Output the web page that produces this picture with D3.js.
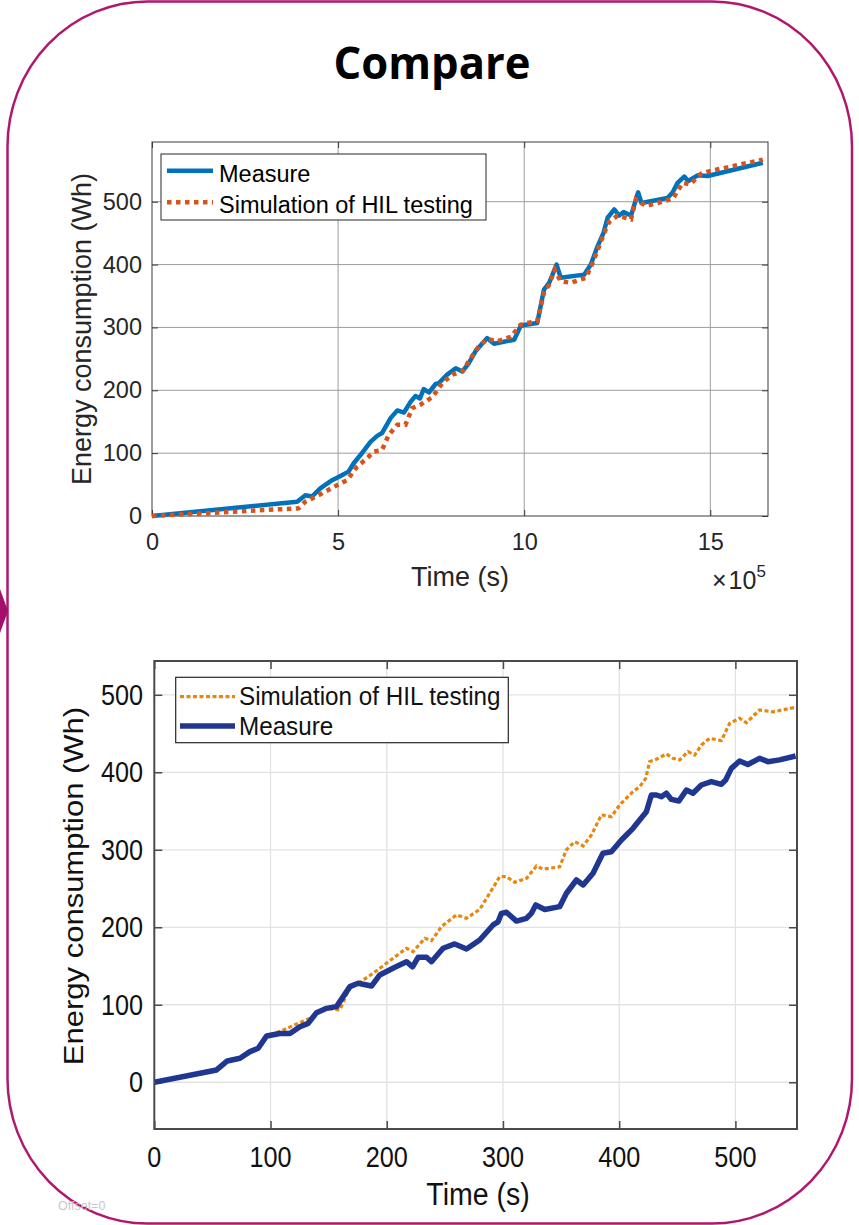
<!DOCTYPE html>
<html><head><meta charset="utf-8">
<script src="https://cdn.jsdelivr.net/npm/d3@7"></script>
<style>html,body{margin:0;padding:0;background:#fff;}svg{display:block;}</style>
</head><body>
<svg id="c" width="859" height="1225"></svg>
<script>
// ---------- DATA ----------
// Top chart (time in units of 1e5 s, energy in Wh)
const topXTicks = [0, 5, 10, 15];
const topYTicks = [0, 100, 200, 300, 400, 500];
const topMeasureT = [0, 3.9, 4.12, 4.3, 4.52, 4.84, 5.1, 5.28, 5.42, 5.6, 5.87, 6.05, 6.18, 6.41, 6.59, 6.77, 6.95, 7.08, 7.2, 7.3, 7.44, 7.62, 7.71, 7.93, 8.16, 8.34, 8.51, 8.69, 9.0, 9.19, 9.73, 9.9, 10.0, 10.35, 10.53, 10.67, 10.87, 10.98, 11.61, 11.79, 11.97, 12.13, 12.24, 12.42, 12.55, 12.67, 12.87, 13.06, 13.15, 13.85, 13.99, 14.12, 14.3, 14.41, 14.66, 14.93, 16.41];
const topMeasureE = [0, 22.8, 33, 31, 44, 57, 65, 70.6, 84, 97, 118, 127.5, 132, 155.7, 168, 164.6, 182, 191, 187, 202, 196.5, 210, 211.5, 225, 235, 230, 243, 262, 283, 274, 280.5, 301.7, 304, 307, 360, 371, 400, 379, 384, 400, 429, 450.5, 474.5, 487.7, 478, 483.4, 478, 515, 498, 506, 515, 530, 540, 533, 542, 541, 562];
const topSimT = [0, 3.94, 4.12, 4.57, 4.97, 5.24, 5.51, 5.78, 5.96, 6.18, 6.36, 6.59, 6.81, 6.99, 7.21, 7.53, 7.8, 8.07, 8.34, 8.56, 8.78, 9.01, 9.28, 9.64, 9.9, 10.0, 10.35, 10.53, 10.67, 10.82, 10.98, 11.25, 11.66, 11.84, 12.01, 12.19, 12.28, 12.51, 12.87, 13.0, 13.27, 13.99, 14.26, 14.46, 14.75, 15.02, 16.41];
const topSimE = [0, 12.3, 22.8, 36, 49, 57, 78.6, 92, 102.5, 105, 129, 145, 145, 171.6, 177, 189, 211.5, 225, 230, 251, 270, 281.6, 278, 285, 304, 306, 310, 355, 368, 392, 373.5, 371, 379, 403, 429, 456, 467.5, 478, 472, 504, 493, 504.7, 530, 527.6, 544.6, 549, 567];

// Bottom chart (time in s, energy in Wh)
const botXTicks = [0, 100, 200, 300, 400, 500];
const botYTicks = [0, 100, 200, 300, 400, 500];
const botMeasureT = [0, 53.6, 62.8, 73.7, 82.3, 89.4, 96.6, 108, 116.7, 125.3, 132.4, 139.6, 148.2, 156.8, 168.3, 175.4, 186.9, 194, 207, 217, 222.2, 227, 234.2, 238.5, 248.5, 258.5, 268.6, 280, 291.5, 295.8, 298.7, 303, 311.6, 320.2, 324.5, 328.2, 336, 348.8, 354.6, 363.2, 369, 377.5, 386, 393.3, 401.9, 406.2, 411.9, 417.6, 423.4, 427.7, 432, 436.3, 440.6, 444.9, 451.4, 457.8, 463.5, 470.7, 479.3, 487.9, 491.6, 496.5, 503.6, 510.7, 520.8, 528, 538, 551.8];
const botMeasureE = [0, 15.9, 27.5, 31, 39.5, 43.9, 59.7, 63, 63, 71.7, 76, 89.8, 95.4, 97.6, 123.4, 127.7, 124.2, 138.5, 148.4, 155.6, 149, 161.3, 161.3, 155.6, 172.9, 178.5, 172, 183.6, 203, 207, 218, 219.4, 208, 211.6, 218, 228.8, 223, 226.6, 243.9, 261, 254.6, 269.7, 295.5, 297.5, 312.6, 319, 327.7, 338.5, 349, 370.7, 370.7, 368.5, 373, 365, 363, 377, 373, 383.6, 388, 384.5, 390, 405, 414.6, 410, 418, 413.7, 416, 421];
const botSimT = [0, 53.6, 62.8, 73.7, 82.3, 89.4, 96.6, 111, 123.8, 133.9, 139.6, 148.2, 159.7, 168.3, 175.4, 188.3, 205.5, 217, 222.7, 232.8, 238.5, 247.1, 260, 268.6, 280, 288.6, 297.2, 303, 310.1, 320.2, 328.8, 334.5, 348.8, 354.6, 361.7, 369, 376.1, 384.7, 393.3, 400.4, 406.2, 411.9, 417.6, 422.8, 426.2, 432, 440.6, 446.3, 452, 459.2, 465, 470.7, 477.8, 487.9, 495, 503.6, 509.4, 520.8, 532.2, 551.8];
const botSimE = [0, 15.9, 27.5, 31, 39.5, 43.9, 59.7, 67.5, 76, 82.6, 89.8, 95.4, 93.3, 123.4, 127.7, 140.6, 160, 172.9, 168.5, 185.8, 182.7, 200.8, 215.9, 211.6, 223, 244, 265.3, 265.3, 258, 263, 279, 275, 278, 300, 310.5, 305, 319, 345, 342.7, 357.8, 366.5, 375, 381.4, 392, 413.7, 416.8, 423.6, 418, 416, 426.6, 422.3, 435, 443.9, 440.8, 463, 469.7, 464, 480.4, 478, 483.8];

const titleText = "Compare";
const legendMeasure = "Measure";
const legendSim = "Simulation of HIL testing";
const xLabel = "Time (s)";
const yLabel = "Energy consumption (Wh)";

// ---------- DRAW ----------
const svg = d3.select("#c");
const FONT = "'Liberation Sans', Arial, Helvetica, sans-serif";
const zip = (a, b) => a.map((v, i) => [v, b[i]]);

// outer rounded frame
svg.append("rect").attr("x", 7.5).attr("y", 1.5).attr("width", 844.5).attr("height", 1222)
  .attr("rx", 140).attr("ry", 145).attr("fill", "none").attr("stroke", "#b0186f").attr("stroke-width", 2.5);
// arrow head on left
svg.append("polygon").attr("points", "0,589 8,611 0,633").attr("fill", "#a3106b");

// title
svg.append("text").attr("x", 432).attr("y", 79).attr("text-anchor", "middle")
  .attr("font-family", "'Open Sans', 'Noto Sans', sans-serif").attr("font-weight", 700)
  .attr("font-size", 44).attr("textLength", 197).attr("lengthAdjust", "spacingAndGlyphs")
  .attr("fill", "#000").text(titleText);

// ===== TOP CHART =====
(function () {
  const L = 152, R = 768, T = 142, B = 516;
  const x = d3.scaleLinear().domain([0, 16.55]).range([L, R]);
  const y = d3.scaleLinear().domain([0, 595]).range([B, T]);
  const g = svg.append("g");
  const gridC = "#9c9c9c";
  g.append("g").selectAll("line").data(topXTicks.filter(v => v > 0)).join("line")
    .attr("x1", d => x(d)).attr("x2", d => x(d)).attr("y1", T).attr("y2", B)
    .attr("stroke", gridC).attr("stroke-width", 1);
  g.append("g").selectAll("line").data(topYTicks.filter(v => v > 0)).join("line")
    .attr("y1", d => y(d)).attr("y2", d => y(d)).attr("x1", L).attr("x2", R)
    .attr("stroke", gridC).attr("stroke-width", 1);

  const styleAxis = (sel) => {
    sel.select(".domain").remove();
    sel.selectAll(".tick line").attr("stroke", "#3a3a3a");
    sel.selectAll(".tick text").attr("font-family", FONT).attr("font-size", 23.5).attr("fill", "#262626");
  };
  g.append("g").attr("transform", `translate(0,${B})`)
    .call(d3.axisBottom(x).tickValues(topXTicks).tickSize(-6).tickPadding(17).tickFormat(d3.format("d"))).call(styleAxis);
  g.append("g").attr("transform", `translate(${L},0)`)
    .call(d3.axisLeft(y).tickValues(topYTicks).tickSize(-6).tickPadding(10).tickFormat(d3.format("d"))).call(styleAxis);
  g.append("g").attr("transform", `translate(0,${T})`)
    .call(d3.axisTop(x).tickValues(topXTicks).tickSize(-6).tickFormat("")).call(styleAxis);
  g.append("g").attr("transform", `translate(${R},0)`)
    .call(d3.axisRight(y).tickValues(topYTicks).tickSize(-6).tickFormat("")).call(styleAxis);

  g.append("rect").attr("x", L).attr("y", T).attr("width", R - L).attr("height", B - T)
    .attr("fill", "none").attr("stroke", "#3a3a3a").attr("stroke-width", 1);

  const clip = svg.append("clipPath").attr("id", "clipTop");
  clip.append("rect").attr("x", L).attr("y", T - 3).attr("width", R - L).attr("height", B - T + 6);
  const line = d3.line().x(d => x(d[0])).y(d => y(d[1])).curve(d3.curveLinear);
  g.append("path").attr("clip-path", "url(#clipTop)").attr("d", line(zip(topMeasureT, topMeasureE)))
    .attr("fill", "none").attr("stroke", "#0072bd").attr("stroke-width", 4.5).attr("stroke-linejoin", "round");
  g.append("path").attr("clip-path", "url(#clipTop)").attr("d", line(zip(topSimT, topSimE)))
    .attr("fill", "none").attr("stroke", "#d95319").attr("stroke-width", 4.5).attr("stroke-dasharray", "4.5,4.5");

  g.append("text").attr("x", 460).attr("y", 586).attr("text-anchor", "middle")
    .attr("font-family", FONT).attr("font-size", 27).attr("fill", "#262626").text(xLabel);
  g.append("text").attr("transform", `translate(91,${(T + B) / 2}) rotate(-90)`).attr("text-anchor", "middle")
    .attr("font-family", FONT).attr("font-size", 27).attr("fill", "#262626").text(yLabel);
  const ex = g.append("text").attr("x", 712).attr("y", 589).attr("font-family", FONT)
    .attr("font-size", 25).attr("fill", "#262626");
  ex.append("tspan").text("\u00D7");
  ex.append("tspan").attr("dx", 2).text("10");
  ex.append("tspan").attr("dy", -12).attr("font-size", 17).text("5");

  // legend
  const lg = g.append("g");
  lg.append("rect").attr("x", 161).attr("y", 154).attr("width", 325).attr("height", 66)
    .attr("fill", "#fff").attr("stroke", "#262626").attr("stroke-width", 1);
  lg.append("line").attr("x1", 167).attr("x2", 213).attr("y1", 170.7).attr("y2", 170.7)
    .attr("stroke", "#0072bd").attr("stroke-width", 4.5);
  lg.append("line").attr("x1", 167).attr("x2", 213).attr("y1", 202.3).attr("y2", 202.3)
    .attr("stroke", "#d95319").attr("stroke-width", 4.5).attr("stroke-dasharray", "4.5,4.5");
  lg.append("text").attr("x", 219).attr("y", 181.7).attr("font-family", FONT).attr("font-size", 23.5)
    .attr("fill", "#000").text(legendMeasure);
  lg.append("text").attr("x", 219).attr("y", 212.5).attr("font-family", FONT).attr("font-size", 23.5)
    .attr("fill", "#000").text(legendSim);
})();

// ===== BOTTOM CHART =====
(function () {
  const L = 154.3, R = 797, T = 661, B = 1129;
  const x = d3.scaleLinear().domain([0, 553]).range([L, R]);
  const y = d3.scaleLinear().domain([-60.3, 543.6]).range([B, T]);
  const g = svg.append("g");
  const gridC = "#e3e3e3";
  g.append("g").selectAll("line").data(botXTicks.filter(v => v > 0)).join("line")
    .attr("x1", d => x(d)).attr("x2", d => x(d)).attr("y1", T).attr("y2", B)
    .attr("stroke", gridC).attr("stroke-width", 1.3);
  g.append("g").selectAll("line").data(botYTicks).join("line")
    .attr("y1", d => y(d)).attr("y2", d => y(d)).attr("x1", L).attr("x2", R)
    .attr("stroke", gridC).attr("stroke-width", 1.3);

  const axC = "#4a4a4a";
  const styleAxis = (sel) => {
    sel.select(".domain").remove();
    sel.selectAll(".tick line").attr("stroke", axC).attr("stroke-width", 1.5);
  };
  g.append("g").attr("transform", `translate(0,${B})`)
    .call(d3.axisBottom(x).tickValues(botXTicks).tickSize(-8).tickFormat("")).call(styleAxis);
  g.append("g").attr("transform", `translate(${L},0)`)
    .call(d3.axisLeft(y).tickValues(botYTicks).tickSize(-8).tickFormat("")).call(styleAxis);
  g.append("g").attr("transform", `translate(0,${T})`)
    .call(d3.axisTop(x).tickValues(botXTicks).tickSize(-8).tickFormat("")).call(styleAxis);
  g.append("g").attr("transform", `translate(${R},0)`)
    .call(d3.axisRight(y).tickValues(botYTicks).tickSize(-8).tickFormat("")).call(styleAxis);
  g.append("rect").attr("x", L).attr("y", T).attr("width", R - L).attr("height", B - T)
    .attr("fill", "none").attr("stroke", axC).attr("stroke-width", 2);

  const SX = 0.87, TF = 29;
  g.append("g").selectAll("text").data(botXTicks).join("text")
    .attr("transform", d => `translate(${x(d)},1167) scale(${SX},1)`).attr("text-anchor", "middle")
    .attr("font-family", FONT).attr("font-size", TF).attr("fill", "#111").text(d => d);
  g.append("g").selectAll("text").data(botYTicks).join("text")
    .attr("transform", d => `translate(143,${y(d) + 10}) scale(${SX},1)`).attr("text-anchor", "end")
    .attr("font-family", FONT).attr("font-size", TF).attr("fill", "#111").text(d => d);

  const clip = svg.append("clipPath").attr("id", "clipBot");
  clip.append("rect").attr("x", L).attr("y", T).attr("width", R - L).attr("height", B - T);
  const line = d3.line().x(d => x(d[0])).y(d => y(d[1])).curve(d3.curveLinear);
  g.append("path").attr("clip-path", "url(#clipBot)").attr("d", line(zip(botSimT, botSimE)))
    .attr("fill", "none").attr("stroke", "#e8870e").attr("stroke-width", 3.2).attr("stroke-dasharray", "4,2.5");
  g.append("path").attr("clip-path", "url(#clipBot)").attr("d", line(zip(botMeasureT, botMeasureE)))
    .attr("fill", "none").attr("stroke", "#1f3790").attr("stroke-width", 5.5).attr("stroke-linejoin", "round");

  g.append("text").attr("transform", `translate(478,1205) scale(0.92,1)`).attr("text-anchor", "middle")
    .attr("font-family", FONT).attr("font-size", 31).attr("fill", "#111").text(xLabel);
  g.append("text").attr("transform", `translate(83,886) rotate(-90) scale(1,0.9)`).attr("text-anchor", "middle")
    .attr("font-family", FONT).attr("font-size", 31).attr("fill", "#111").text(yLabel);

  // legend
  const lg = g.append("g");
  lg.append("rect").attr("x", 175.7).attr("y", 677.3).attr("width", 332.6).attr("height", 65.4)
    .attr("fill", "#fff").attr("stroke", "#262626").attr("stroke-width", 1.2);
  lg.append("line").attr("x1", 180).attr("x2", 235).attr("y1", 696.7).attr("y2", 696.7)
    .attr("stroke", "#e8870e").attr("stroke-width", 3.2).attr("stroke-dasharray", "4,2.5");
  lg.append("line").attr("x1", 180).attr("x2", 235).attr("y1", 726).attr("y2", 726)
    .attr("stroke", "#1f3790").attr("stroke-width", 5.5);
  lg.append("text").attr("transform", "translate(239,705) scale(0.95,1)").attr("font-family", FONT)
    .attr("font-size", 25.5).attr("fill", "#111").text(legendSim);
  lg.append("text").attr("transform", "translate(239,735) scale(0.95,1)").attr("font-family", FONT)
    .attr("font-size", 25.5).attr("fill", "#111").text(legendMeasure);
})();

// watermark-like note
svg.append("text").attr("x", 58).attr("y", 1210).attr("font-family", FONT).attr("font-size", 12.5)
  .attr("fill", "#c8c8c8").text("Offset=0");
</script>
</body></html>
